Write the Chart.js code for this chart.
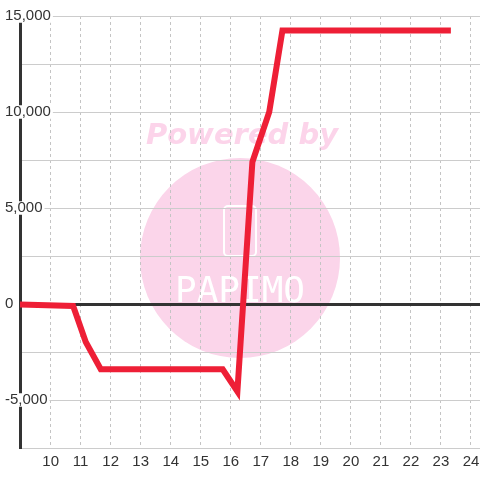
<!DOCTYPE html>
<html>
<head>
<meta charset="utf-8">
<script src="https://cdn.jsdelivr.net/npm/chart.js@4/dist/chart.umd.min.js"></script>
<style>
  html, body { margin: 0; padding: 0; background: #fff; }
  canvas { display: block; }
</style>
</head>
<body>
<canvas id="c" width="480" height="480"></canvas>
<script>
// Series
const xValues = [8.5, 10.75, 11.17, 11.67, 15.73, 16.22, 16.72, 17.28, 17.72, 23.33];
const yValues = [0, -100, -1980, -3400, -3400, -4550, 7400, 10000, 14250, 14250];
// Axis ranges and tick settings
const xRange = [8.98, 24.3];
const xTickRange = [10, 24];
const yRange = [-7500, 15000];
const yStep = 2500;
const yLabelStep = 5000;
const xStep = 1;

const points = xValues.map((x, i) => ({ x: x, y: yValues[i] }));

const watermark = {
  id: 'watermark',
  beforeDraw(chart) {
    const ctx = chart.ctx;
    ctx.save();
    ctx.fillStyle = '#fbd5ea';
    ctx.beginPath();
    ctx.arc(240, 258, 100, 0, Math.PI * 2);
    ctx.fill();
    ctx.fillStyle = '#fcd4ea';
    ctx.font = 'italic bold 29px "DejaVu Sans"';
    ctx.textAlign = 'center';
    ctx.textBaseline = 'alphabetic';
    ctx.fillText('Powered by', 242, 144);
    ctx.strokeStyle = '#ffffff';
    ctx.lineWidth = 2;
    ctx.beginPath();
    ctx.roundRect(224, 206, 32, 50, 4);
    ctx.stroke();
    ctx.fillStyle = '#ffffff';
    ctx.font = '36px "DejaVu Sans Mono"';
    ctx.fillText('PAPIMO', 240, 302);
    ctx.restore();
  }
};

new Chart(document.getElementById('c'), {
  type: 'line',
  data: {
    datasets: [{
      data: points,
      borderColor: '#ee1f36',
      borderWidth: 6,
      pointRadius: 0,
      pointHoverRadius: 0,
      tension: 0,
      fill: false
    }]
  },
  options: {
    responsive: false,
    animation: false,
    events: [],
    layout: { padding: { top: 16, right: 0, left: 0, bottom: 0 } },
    plugins: { legend: { display: false }, tooltip: { enabled: false } },
    scales: {
      x: {
        type: 'linear',
        min: xRange[0],
        max: xRange[1],
        afterBuildTicks: (s) => {
          s.ticks = s.ticks.filter((t) => t.value >= xTickRange[0] && t.value <= xTickRange[1]);
        },
        afterFit: (s) => { s.height = 32; s.paddingLeft = 0; s.paddingRight = 0; },
        ticks: {
          stepSize: xStep,
          includeBounds: false,
          color: '#333',
          padding: 5,
          maxRotation: 0,
          autoSkip: false,
          font: { family: '"Liberation Sans", Arial, sans-serif', size: 15 }
        },
        grid: { color: '#c4c4c4', lineWidth: 1, drawTicks: false },
        border: { display: false, dash: [3, 3] }
      },
      y: {
        type: 'linear',
        min: yRange[0],
        max: yRange[1],
        afterFit: (s) => { s.width = 20; s.paddingTop = 0; s.paddingBottom = 0; },
        ticks: {
          stepSize: yStep,
          mirror: true,
          padding: -15,
          color: '#333',
          showLabelBackdrop: true,
          backdropColor: '#ffffff',
          backdropPadding: { top: 0, bottom: 0, left: 2, right: 2 },
          font: { family: '"Liberation Sans", Arial, sans-serif', size: 15, lineHeight: 0.9 },
          callback: (v) => (v % yLabelStep === 0 ? v.toLocaleString('en-US') : '')
        },
        grid: {
          drawTicks: false,
          color: (c) => (c.tick && c.tick.value === 0 ? '#333' : '#cccccc'),
          lineWidth: (c) => (c.tick && c.tick.value === 0 ? 3 : 1)
        },
        border: { display: true, color: '#333', width: 3 }
      }
    }
  },
  plugins: [watermark]
});
</script>
</body>
</html>
